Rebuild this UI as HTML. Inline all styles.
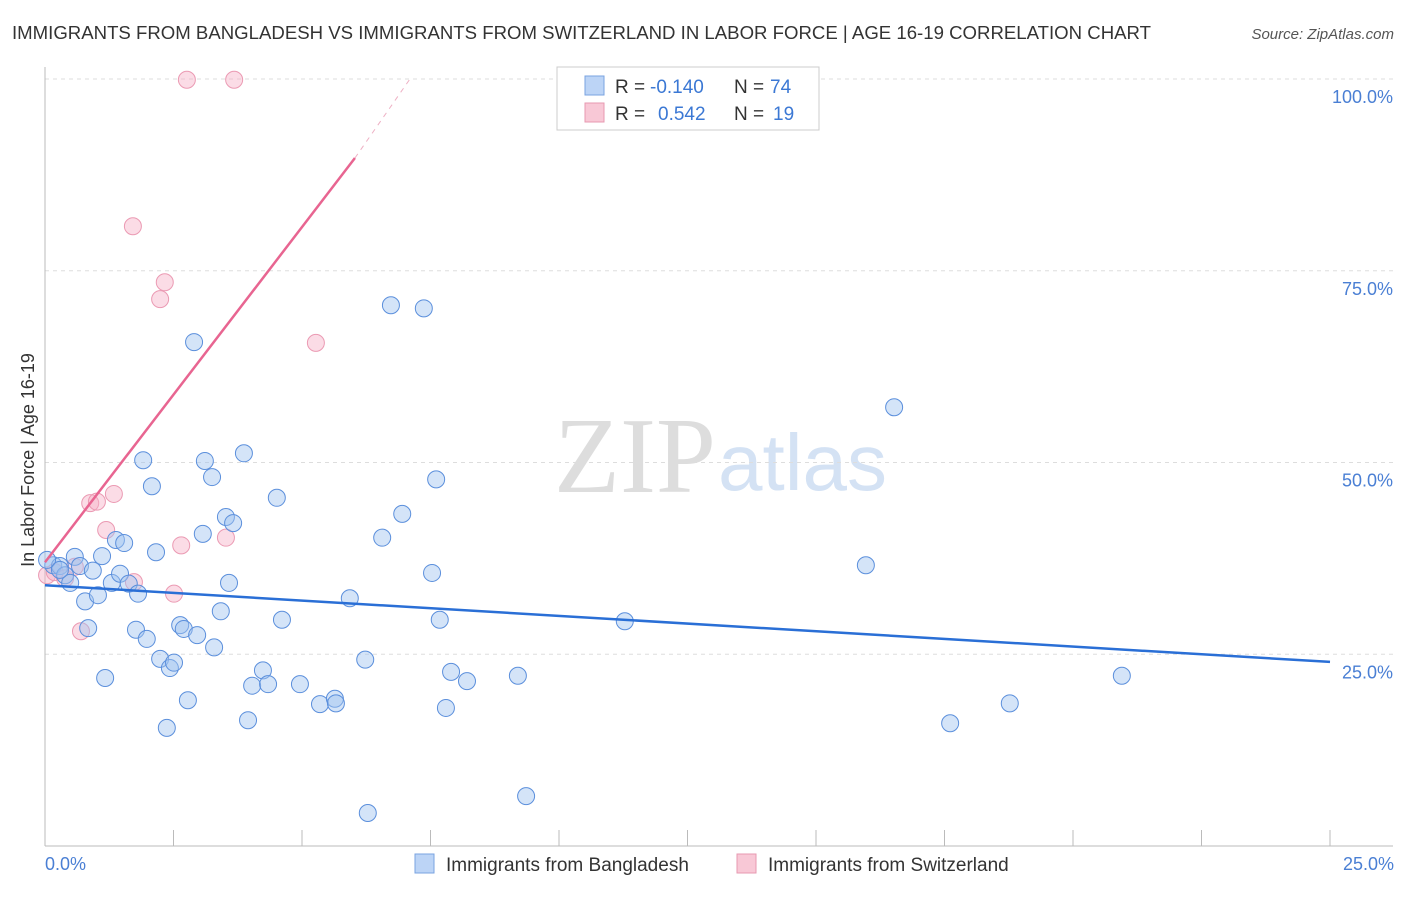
<!DOCTYPE html>
<html><head><meta charset="utf-8"><style>
body{margin:0;background:#fff;font-family:"Liberation Sans",sans-serif;}
</style></head><body>
<svg width="1406" height="892" xmlns="http://www.w3.org/2000/svg">
<text x="12" y="39" font-size="18" fill="#333" textLength="1139" lengthAdjust="spacingAndGlyphs">IMMIGRANTS FROM BANGLADESH VS IMMIGRANTS FROM SWITZERLAND IN LABOR FORCE | AGE 16-19 CORRELATION CHART</text>
<text x="1394" y="39" font-size="15" fill="#555" font-style="italic" text-anchor="end">Source: ZipAtlas.com</text>
<text x="716" y="492" font-size="108" fill="#ddd" font-family="Liberation Serif,serif" text-anchor="end">ZIP</text>
<text x="718" y="490" font-size="80" fill="#d4e2f4">atlas</text>
<g id="grid"></g>
<g id="axes"></g>
<g id="marks"></g>
<text transform="translate(34,460) rotate(-90)" font-size="18" fill="#333" text-anchor="middle">In Labor Force | Age 16-19</text>
<text x="45" y="870" font-size="18" fill="#4a7fd4">0.0%</text>
<text x="1394" y="870" font-size="18" fill="#4a7fd4" text-anchor="end">25.0%</text>
<g>
<rect x="557" y="67" width="262" height="63" fill="#fff" stroke="#ccc"/>
<rect x="585" y="76" width="19" height="19" fill="#bcd4f6" stroke="#7aa3e0"/>
<text x="615" y="93" font-size="19" fill="#333">R =</text><text x="650" y="93" font-size="19" fill="#3b78d4">-0.140</text>
<text x="734" y="93" font-size="19" fill="#333">N =</text><text x="770" y="93" font-size="19" fill="#3b78d4">74</text>
<rect x="585" y="103" width="19" height="19" fill="#f8c8d6" stroke="#e799b0"/>
<text x="615" y="120" font-size="19" fill="#333">R =</text><text x="658" y="120" font-size="19" fill="#3b78d4">0.542</text>
<text x="734" y="120" font-size="19" fill="#333">N =</text><text x="773" y="120" font-size="19" fill="#3b78d4">19</text>
</g>
<g>
<rect x="415" y="854" width="19" height="19" fill="#bcd4f6" stroke="#7aa3e0"/>
<text x="446" y="871" font-size="19" fill="#333">Immigrants from Bangladesh</text>
<rect x="737" y="854" width="19" height="19" fill="#f8c8d6" stroke="#e799b0"/>
<text x="768" y="871" font-size="19" fill="#333">Immigrants from Switzerland</text>
</g>
</svg>
<script>
const blueX=[0.16,0.29,0.39,0.49,0.58,0.68,0.78,0.84,0.93,1.03,1.11,1.17,1.30,1.38,1.46,1.54,1.63,1.77,1.81,1.91,1.98,2.08,2.16,2.24,2.37,2.43,2.51,2.63,2.70,2.78,2.90,2.96,3.07,3.11,3.25,3.29,3.42,3.52,3.58,3.66,3.87,3.95,4.03,4.24,4.34,4.51,4.61,4.96,5.35,5.64,5.66,5.93,6.23,6.28,6.56,6.73,6.95,7.37,7.53,7.61,7.68,7.80,7.90,8.21,9.20,9.36,11.28,15.97,16.52,17.61,18.77,20.95,0.04,0.29];
const blueY=[36.6,36.5,35.3,34.3,37.7,36.5,31.9,28.4,35.9,32.7,37.8,21.9,34.3,39.9,35.5,39.5,34.2,28.2,32.9,50.3,27.0,46.9,38.3,24.4,15.4,23.2,23.9,28.8,28.3,19.0,65.7,27.5,40.7,50.2,48.1,25.9,30.6,42.9,34.3,42.1,51.2,16.4,20.9,22.9,21.1,45.4,29.5,21.1,18.5,19.2,18.6,32.3,24.3,4.3,40.2,70.5,43.3,70.1,35.6,47.8,29.5,18.0,22.7,21.5,22.2,6.5,29.3,36.6,57.2,16.0,18.6,22.2,37.3,36.0];
const pinkX=[0.04,0.19,0.39,0.58,0.70,0.88,1.01,1.19,1.34,1.73,1.71,2.24,2.33,2.51,2.65,2.76,3.52,3.68,5.27];
const pinkY=[35.3,35.7,34.9,36.4,28.0,44.7,44.9,41.2,45.9,34.4,80.8,71.3,73.5,32.9,39.2,99.9,40.2,99.9,65.6];
const blueTrend=[34.0,24.0];
const pinkTrend=[37.0,89.7,100];
const pinkTrendX=[0,6.03,7.1];
const yTicks=[25,50,75,100];
const yTickLabels=["25.0%","50.0%","75.0%","100.0%"];
const xTicks=[2.5,5,7.5,10,12.5,15,17.5,20,22.5,25];
const NS="http://www.w3.org/2000/svg";
const sx=v=>45+v*51.4, sy=v=>846-v*7.67;
function mk(tag,attrs,parent){const e=document.createElementNS(NS,tag);for(const k in attrs)e.setAttribute(k,attrs[k]);parent.appendChild(e);return e;}
const grid=document.getElementById('grid'),axes=document.getElementById('axes'),marks=document.getElementById('marks');
yTicks.forEach((t,i)=>{
 const l=mk('line',{x1:45,x2:1393,y1:sy(t),y2:sy(t),stroke:'#ddd','stroke-dasharray':'4,4'},grid);
 
 
 const tx=mk('text',{x:1393,y:sy(t)+24,'font-size':18,fill:'#4a7fd4','text-anchor':'end'},grid);
 tx.textContent=yTickLabels[i];
 
 
});
const xa=mk('line',{x1:45,x2:1393,y1:846,y2:846,stroke:'#bbb'},axes);


const ya=mk('line',{x1:45,x2:45,y1:67,y2:846,stroke:'#bbb'},axes);


xTicks.forEach(t=>{
 const l=mk('line',{x1:sx(t),x2:sx(t),y1:830,y2:846,stroke:'#bbb'},axes);
 
 
});
pinkX.forEach((x,i)=>{
 const c=mk('circle',{cx:sx(x),cy:sy(pinkY[i]),r:8.5,fill:'rgba(246,178,200,0.45)',stroke:'#eb9ab3','stroke-width':1},marks);
 
 
});
blueX.forEach((x,i)=>{
 const c=mk('circle',{cx:sx(x),cy:sy(blueY[i]),r:8.5,fill:'rgba(160,195,240,0.45)',stroke:'#5b8fdc','stroke-width':1},marks);
 
 
});
const bt=mk('line',{x1:sx(0),y1:sy(blueTrend[0]),x2:sx(25),y2:sy(blueTrend[1]),stroke:'#2a6fd6','stroke-width':2.5},marks);


const pt=mk('line',{x1:sx(pinkTrendX[0]),y1:sy(pinkTrend[0]),x2:sx(pinkTrendX[1]),y2:sy(pinkTrend[1]),stroke:'#e86591','stroke-width':2.5},marks);


const pd=mk('line',{x1:sx(pinkTrendX[1]),y1:sy(pinkTrend[1]),x2:sx(pinkTrendX[2]),y2:sy(pinkTrend[2]),stroke:'#eeb0c4','stroke-width':1,'stroke-dasharray':'5,5'},marks);


</script>
</body></html>
